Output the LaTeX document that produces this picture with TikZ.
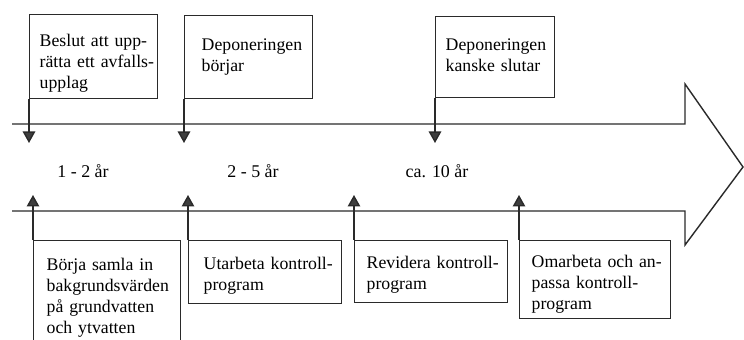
\documentclass[tikz,border=0pt]{standalone}
\usepackage{fontspec}
\setmainfont{Liberation Serif}
\usepackage{xcolor}
\usetikzlibrary{arrows.meta, positioning}
\definecolor{tlinje}{HTML}{2A2A2A}
\definecolor{tpil}{HTML}{3E3E3E}
\tikzset{
  ruta/.style={draw=tlinje, line width=0.8pt, rectangle, anchor=north west, align=left,
    inner ysep=0pt, font=\fontsize{10.1pt}{12pt}\selectfont,
    execute at begin node={\hyphenpenalty=10000 \exhyphenpenalty=10000 }},
  pil/.style={draw=tlinje, line width=0.8pt, -{Triangle[length=0.23cm, width=0.25cm, fill=tpil]}},
  etikett/.style={font=\fontsize{10.2pt}{12pt}\selectfont}
}

\begin{document}
\begin{tikzpicture}[x=0.02cm, y=-0.02cm]
\useasboundingbox (0,0) rectangle (744,340);
\clip (0,0) rectangle (744,340);
\draw[tlinje, line width=0.8pt] (12,124) -- (685,124) -- (685,84) -- (743,167)
  -- (685,245) -- (685,211) -- (12,211);

\node[ruta, minimum width=2.56cm, inner xsep=0.20cm, text width=2.16cm, text height=0.64cm, text depth=1.04cm]
  (beslut) at (29,14) {Beslut~att~upp-\\rätta~ett~avfalls-\\upplag};
\node[ruta, minimum width=2.56cm, inner xsep=0.34cm, text width=1.88cm, text height=0.70cm, text depth=0.96cm]
  (borjar) at (184,15) {Deponeringen\\börjar};
\node[ruta, minimum width=2.38cm, inner xsep=0.20cm, text width=1.98cm, text height=0.68cm, text depth=0.94cm]
  (slutar) at (435,16) {Deponeringen\\kanske~slutar};

\node[ruta, minimum width=2.94cm, inner xsep=0.26cm, text width=2.42cm, text height=0.60cm, text depth=2.00cm]
  (samla) at (33,240) {Börja~samla~in\\bakgrundsvärden\\på~grundvatten\\och~ytvatten};
\node[ruta, minimum width=3.06cm, inner xsep=0.30cm, text width=2.46cm, text height=0.58cm, text depth=0.68cm]
  (utarbeta) at (188,240) {Utarbeta~kontroll-\\program};
\node[ruta, minimum width=3.06cm, inner xsep=0.24cm, text width=2.58cm, text height=0.56cm, text depth=0.68cm]
  (revidera) at (354,240) {Revidera~kontroll-\\program};
\node[ruta, minimum width=3.02cm, inner xsep=0.24cm, text width=2.54cm, text height=0.54cm, text depth=1.02cm]
  (omarbeta) at (519,240) {Omarbeta~och~an-\\passa~kontroll-\\program};

\coordinate (ned1) at (29,143);
\coordinate (ned2) at (184,143);
\coordinate (ned3) at (435,143);
\coordinate (upp1) at (33,195);
\coordinate (upp2) at (188,195);
\coordinate (upp3) at (354,195);
\coordinate (upp4) at (519,195);

\draw[pil] (beslut.south west) -- (ned1);
\draw[pil] (borjar.south west) -- (ned2);
\draw[pil] (slutar.south west) -- (ned3);
\draw[pil] (samla.north west) -- (upp1);
\draw[pil] (utarbeta.north west) -- (upp2);
\draw[pil] (revidera.north west) -- (upp3);
\draw[pil] (omarbeta.north west) -- (upp4);

\node[etikett] (ar1) at (83,171) {1 - 2 år};
\node[etikett] (ar2) at (253,171) {2 - 5 år};
\node[etikett] (ar3) at (437,171) {ca. 10 år};
\end{tikzpicture}
\end{document}
